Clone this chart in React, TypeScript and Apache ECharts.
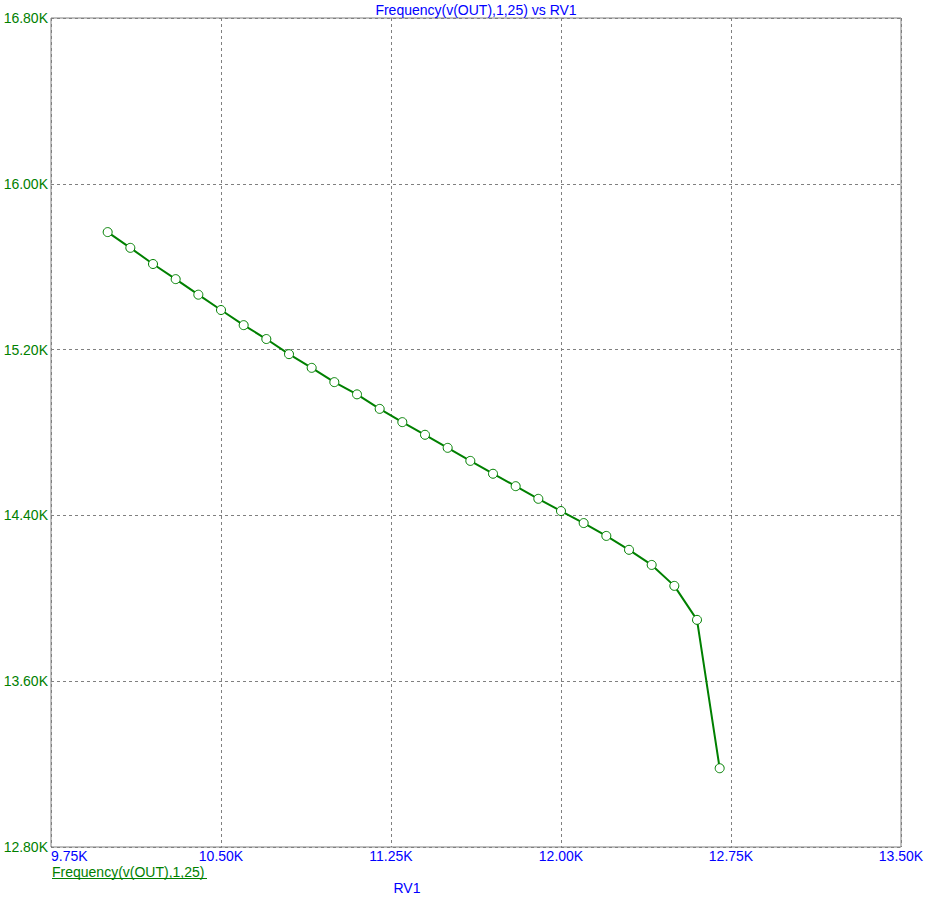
import React, { useEffect, useRef } from "react";
import * as echarts from "echarts";

const rv1 = [10.0, 10.1, 10.2, 10.3, 10.4, 10.5, 10.6, 10.7, 10.8, 10.9, 11.0, 11.1, 11.2, 11.3, 11.4, 11.5, 11.6, 11.7, 11.8, 11.9, 12.0, 12.1, 12.2, 12.3, 12.4, 12.5, 12.6, 12.7];
const frequencyK = [15.767, 15.691, 15.613, 15.540, 15.465, 15.391, 15.318, 15.251, 15.178, 15.112, 15.043, 14.984, 14.914, 14.850, 14.789, 14.726, 14.663, 14.601, 14.541, 14.480, 14.421, 14.363, 14.301, 14.234, 14.161, 14.060, 13.896, 13.180];

const titleText = "Frequency(v(OUT),1,25) vs RV1";
const seriesName = "Frequency(v(OUT),1,25)";
const xAxisName = "RV1";

const FONT = "'Liberation Sans', Arial, sans-serif";
const BLUE = "#0000ff";
const GREEN = "#008000";
const GRAY = "#808080";

export default function App() {
  const ref = useRef<HTMLDivElement>(null);
  useEffect(() => {
    if (!ref.current) return;
    const chart = echarts.init(ref.current, null, { renderer: "svg" });
    const data = rv1.map((x, i) => [x * 1000, frequencyK[i] * 1000]);
    const fmt = (v: number) => (v / 1000).toFixed(2) + "K";
    chart.setOption({
      animation: false,
      backgroundColor: "#ffffff",
      textStyle: { fontFamily: FONT },
      grid: {
        left: 51,
        top: 18,
        right: 35,
        bottom: 55,
        show: true,
        borderColor: GRAY,
        borderWidth: 1,
        backgroundColor: "transparent",
      },
      xAxis: {
        type: "value",
        min: 9750,
        max: 13500,
        interval: 750,
        axisLine: { show: false },
        axisTick: { show: false },
        axisLabel: {
          color: BLUE,
          fontSize: 14,
          fontFamily: FONT,
          margin: 2,
          formatter: fmt,
          alignMinLabel: "left",
        },
        splitLine: { show: true, lineStyle: { color: GRAY, type: [3, 3], width: 1 } },
      },
      yAxis: {
        type: "value",
        min: 12800,
        max: 16800,
        interval: 800,
        axisLine: { show: false },
        axisTick: { show: false },
        axisLabel: {
          color: GREEN,
          fontSize: 14,
          fontFamily: FONT,
          margin: 3,
          formatter: fmt,
        },
        splitLine: { show: true, lineStyle: { color: GRAY, type: [3, 3], width: 1 } },
      },
      series: [
        {
          name: seriesName,
          type: "line",
          data,
          symbol: "circle",
          symbolSize: 9,
          showAllSymbol: true,
          lineStyle: { color: GREEN, width: 2 },
          itemStyle: { color: "#ffffff", borderColor: GREEN, borderWidth: 1 },
          z: 3,
        },
      ],
      graphic: [
        {
          type: "text",
          x: 476,
          y: 3,
          style: { text: titleText, fill: BLUE, font: `14px ${FONT}`, textAlign: "center" },
        },
        {
          type: "text",
          x: 52,
          y: 865,
          style: { text: seriesName, fill: GREEN, font: `14px ${FONT}` },
        },
        {
          type: "line",
          shape: { x1: 52, y1: 878.5, x2: 207, y2: 878.5 },
          style: { stroke: GREEN, lineWidth: 1 },
        },
        {
          type: "text",
          x: 407,
          y: 881,
          style: { text: xAxisName, fill: BLUE, font: `14px ${FONT}`, textAlign: "center" },
        },
      ],
    });
    return () => chart.dispose();
  }, []);
  return (
    <div
      ref={ref}
      style={{ position: "fixed", left: 0, top: 0, width: 936, height: 902, background: "#fff" }}
    />
  );
}
